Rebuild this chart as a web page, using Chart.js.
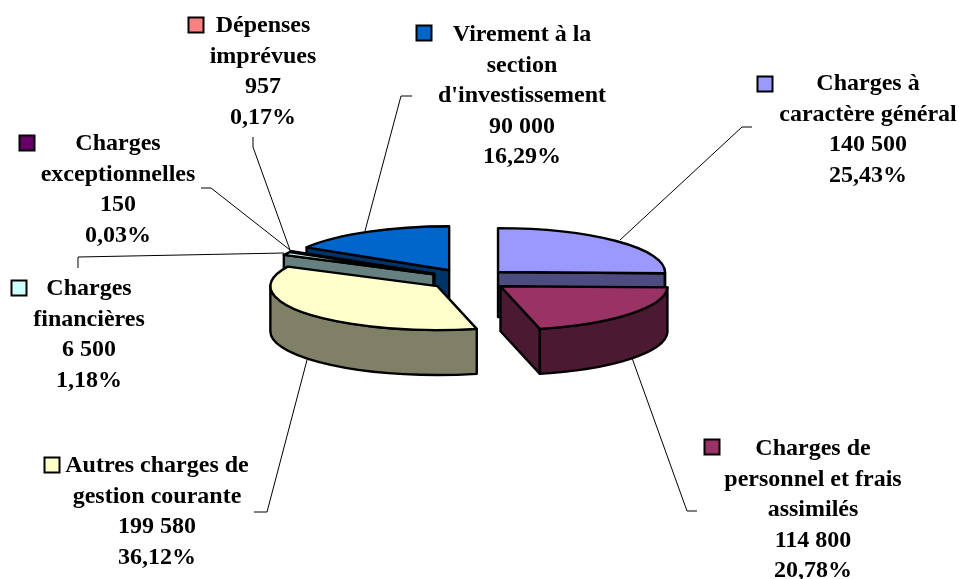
<!DOCTYPE html>
<html>
<head>
<meta charset="utf-8">
<style>html,body{margin:0;padding:0;background:#fff}canvas{display:block}</style>
<script src="https://cdn.jsdelivr.net/npm/chart.js@4"></script>
</head>
<body>
<canvas id="c" width="959" height="579"></canvas>
<script>
const categories = [
  ["Charges à", "caractère général"],
  ["Charges de", "personnel et frais", "assimilés"],
  ["Autres charges de", "gestion courante"],
  ["Charges", "financières"],
  ["Charges", "exceptionnelles"],
  ["Dépenses", "imprévues"],
  ["Virement à la", "section", "d'investissement"]
];
const values = [140500, 114800, 199580, 6500, 150, 957, 90000];
const valueLabels = ["140 500", "114 800", "199 580", "6 500", "150", "957", "90 000"];
const percentLabels = ["25,43%", "20,78%", "36,12%", "1,18%", "0,03%", "0,17%", "16,29%"];

const topColors = ["#9999FF", "#993366", "#FFFFCC", "#CCFFFF", "#660066", "#FF8080", "#0066CC"];
const wallColors = ["#4C4C80", "#4C1933", "#808066", "#668080", "#330033", "#804040", "#003366"];

// layout of the pseudo-3D view (not data)
const RADIUS = 167, SQUASH = 0.263, DEPTH = 45, EXPLODE = 40.5;
const PAINT_ORDER = [6, 5, 4, 3, 0, 2, 1];
const labelCenters = [[868, 84], [813, 449], [157, 466], [89, 289], [118, 144], [263, 26], [522, 35]];
const keyCenters = [[765, 84], [712, 447], [52, 465], [19, 288], [27, 143], [196, 25], [424, 33]];
const leaders = [
  [[752, 127], [742, 127], [620, 240]],
  [[697, 511], [687, 511], [632, 358]],
  [[254, 512], [267, 512], [307, 360]],
  [[78, 268], [78, 257], [284, 253]],
  [[201, 188], [211, 188], [290, 250]],
  [[253, 137], [253, 147], [290, 250]],
  [[412, 96], [401, 96], [365, 231]]
];
const LINE_HEIGHT = 30.5;

const pie3d = {
  id: 'pie3d',
  beforeDatasetsDraw(chart) {
    const ctx = chart.ctx;
    const arcs = chart.getDatasetMeta(0).data;

    // leader lines sit behind the pie
    ctx.save();
    ctx.strokeStyle = '#000';
    ctx.lineWidth = 1;
    leaders.forEach(pts => {
      ctx.beginPath();
      pts.forEach((p, i) => i ? ctx.lineTo(p[0], p[1]) : ctx.moveTo(p[0], p[1]));
      ctx.stroke();
    });
    ctx.restore();

    PAINT_ORDER.forEach(i => {
      const el = arcs[i];
      const a0 = el.startAngle, a1 = el.endAngle, mid = (a0 + a1) / 2;
      const R = el.outerRadius;
      const cx = el.x + Math.cos(mid) * EXPLODE;
      const cy = el.y + Math.sin(mid) * EXPLODE * SQUASH;
      const rim = a => [cx + R * Math.cos(a), cy + R * SQUASH * Math.sin(a)];

      ctx.save();
      ctx.lineWidth = 2.4;
      ctx.lineJoin = 'round';
      ctx.strokeStyle = '#000';
      ctx.fillStyle = wallColors[i];

      // radial walls that face the viewer
      [[a0, 1], [a1, -1]].forEach(([a, side]) => {
        const p = rim(a);
        const inward = rim(a + side * 0.01);
        const ex = p[0] - cx, ey = p[1] - cy;
        const cross = (ix, iy) => ex * iy - ey * ix;
        const visible = cross(0, 1) * cross(inward[0] - cx, inward[1] - cy) < 0;
        if (!visible) return;
        ctx.beginPath();
        ctx.moveTo(cx, cy);
        ctx.lineTo(p[0], p[1]);
        ctx.lineTo(p[0], p[1] + DEPTH);
        ctx.lineTo(cx, cy + DEPTH);
        ctx.closePath();
        ctx.fill();
        ctx.stroke();
      });

      // front part of the outer wall (angles where the rim faces the viewer)
      [[0, Math.PI], [2 * Math.PI, 3 * Math.PI]].forEach(([f0, f1]) => {
        const s = Math.max(a0, f0), e = Math.min(a1, f1);
        if (e <= s) return;
        ctx.beginPath();
        ctx.ellipse(cx, cy, R, R * SQUASH, 0, s, e);
        ctx.ellipse(cx, cy + DEPTH, R, R * SQUASH, 0, e, s, true);
        ctx.closePath();
        ctx.fill();
        ctx.stroke();
      });

      // top face: the library's own arc element, flattened and moved out
      ctx.save();
      ctx.translate(cx - el.x, cy);
      ctx.scale(1, SQUASH);
      ctx.translate(0, -el.y);
      el.draw(ctx);
      ctx.restore();

      ctx.beginPath();
      ctx.moveTo(cx, cy);
      ctx.ellipse(cx, cy, R, R * SQUASH, 0, a0, a1);
      ctx.closePath();
      ctx.stroke();
      ctx.restore();
    });
    return false;
  },
  afterDraw(chart) {
    const ctx = chart.ctx;
    ctx.save();
    ctx.fillStyle = '#000';
    ctx.font = 'bold 24px "Liberation Serif"';
    ctx.textAlign = 'center';
    ctx.textBaseline = 'middle';
    categories.forEach((lines, i) => {
      const all = lines.concat([valueLabels[i], percentLabels[i]]);
      all.forEach((t, j) => ctx.fillText(t, labelCenters[i][0], labelCenters[i][1] + j * LINE_HEIGHT));
      const [kx, ky] = keyCenters[i];
      ctx.save();
      ctx.fillStyle = topColors[i];
      ctx.strokeStyle = '#000';
      ctx.lineWidth = 2;
      ctx.fillRect(kx - 7.5, ky - 7.5, 15, 15);
      ctx.strokeRect(kx - 7.5, ky - 7.5, 15, 15);
      ctx.restore();
    });
    ctx.restore();
  }
};

new Chart(document.getElementById('c'), {
  type: 'pie',
  data: {
    labels: categories.map(l => l.join(' ')),
    datasets: [{
      data: values,
      backgroundColor: topColors,
      borderWidth: 0,
      radius: RADIUS
    }]
  },
  options: {
    responsive: false,
    animation: false,
    layout: { padding: { right: 21, bottom: 20 } },
    plugins: { legend: { display: false }, tooltip: { enabled: false } }
  },
  plugins: [pie3d]
});
</script>
</body>
</html>
